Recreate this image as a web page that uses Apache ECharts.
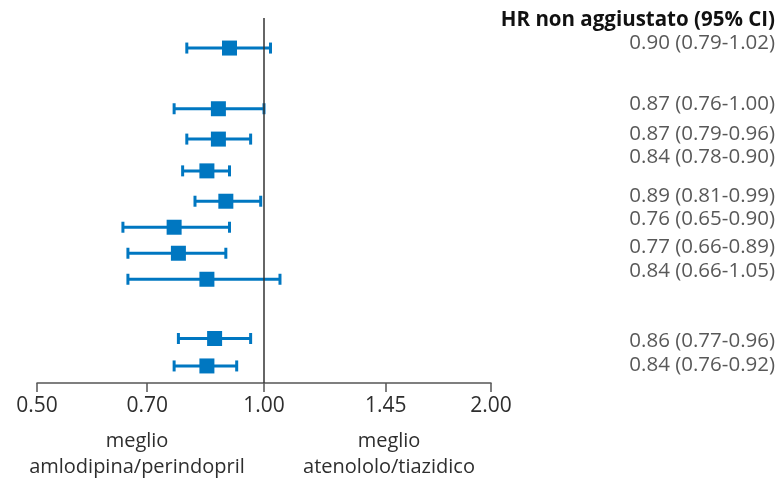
<!DOCTYPE html>
<html>
<head>
<meta charset="utf-8">
<script src="https://cdn.jsdelivr.net/npm/echarts@6/dist/echarts.min.js"></script>
<style>
  html, body { margin: 0; padding: 0; background: #fff; }
  #chart { width: 781px; height: 478px; }
</style>
</head>
<body>
<div id="chart"></div>
<script>
// Hazard ratios with 95% confidence limits, one entry per row
const hr    = [0.90, 0.87, 0.87, 0.84, 0.89, 0.76, 0.77, 0.84, 0.86, 0.84];
const ciLow = [0.79, 0.76, 0.79, 0.78, 0.81, 0.65, 0.66, 0.66, 0.77, 0.76];
const ciHigh= [1.02, 1.00, 0.96, 0.90, 0.99, 0.90, 0.89, 1.05, 0.96, 0.92];

// Axis tick values (log scale)
const xTicks = [0.50, 0.70, 1.00, 1.45, 2.00];

// Layout: vertical row slot of each estimate and of its text
const rowSlot   = [0, 2.1, 3.15, 4.25, 5.3, 6.2, 7.1, 8.0, 10.05, 11];
const labelSlot = [-0.17, 1.94, 2.98, 3.77, 5.12, 5.92, 6.89, 7.72, 10.14, 10.97];

const BLUE = '#0077c1';
const FONT = '"Open Sans"';
const TXT = '#2e2e2e';

const fmt = v => v.toFixed(2);

const barData = hr.map((v, i) => [ciLow[i], ciHigh[i], rowSlot[i]]);
const pointData = hr.map((v, i) => [v, rowSlot[i]]);
const textData = hr.map((v, i) => ({
  value: [1, labelSlot[i]],
  label: { formatter: fmt(v) + ' (' + fmt(ciLow[i]) + '-' + fmt(ciHigh[i]) + ')' }
}));

const yRange = { min: -1.04, max: 11.59 };

const chart = echarts.init(document.getElementById('chart'), null, { renderer: 'canvas' });

chart.setOption({
  animation: false,
  backgroundColor: '#ffffff',
  textStyle: { fontFamily: FONT },
  title: {
    text: 'HR non aggiustato (95% CI)',
    right: 1, top: 5,
    textStyle: { fontFamily: FONT, fontSize: 20.5, fontWeight: 'bold', color: '#111' }
  },
  grid: [
    { left: 37, right: 290, top: 18, bottom: 95 },
    { left: 491, right: 6, top: 18, bottom: 95 }
  ],
  xAxis: [
    {
      gridIndex: 0, type: 'log', logBase: 10, min: 0.5, max: 2,
      axisLine: { onZero: false, lineStyle: { color: '#555', width: 1.5 } },
      axisTick: { show: true, inside: false, length: 9, customValues: xTicks,
                  lineStyle: { color: '#555', width: 1.5 } },
      axisLabel: { customValues: xTicks, formatter: v => fmt(v), margin: 13,
                   fontSize: 21, color: TXT, fontFamily: FONT },
      splitLine: { show: false }, minorTick: { show: false }
    },
    { gridIndex: 1, type: 'value', min: 0, max: 1, show: false }
  ],
  yAxis: [
    Object.assign({ gridIndex: 0, type: 'value', inverse: true, show: false }, yRange),
    Object.assign({ gridIndex: 1, type: 'value', inverse: true, show: false }, yRange)
  ],
  series: [
    {
      type: 'custom',
      xAxisIndex: 0, yAxisIndex: 0,
      data: barData,
      encode: { x: [0, 1], y: 2 },
      renderItem: function (params, api) {
        const a = api.coord([api.value(0), api.value(2)]);
        const b = api.coord([api.value(1), api.value(2)]);
        const h = 5.5;
        const st = { stroke: BLUE, lineWidth: 3 };
        return {
          type: 'group',
          children: [
            { type: 'line', shape: { x1: a[0], y1: a[1], x2: b[0], y2: b[1] }, style: st },
            { type: 'line', shape: { x1: a[0], y1: a[1] - h, x2: a[0], y2: a[1] + h }, style: st },
            { type: 'line', shape: { x1: b[0], y1: b[1] - h, x2: b[0], y2: b[1] + h }, style: st }
          ]
        };
      },
      z: 2
    },
    {
      type: 'scatter',
      xAxisIndex: 0, yAxisIndex: 0,
      data: pointData,
      symbol: 'rect',
      symbolSize: 15,
      itemStyle: { color: BLUE, opacity: 1 },
      z: 3,
      markLine: {
        silent: true,
        symbol: 'none',
        label: { show: false },
        lineStyle: { color: '#333', width: 1.5, type: 'solid' },
        data: [{ xAxis: 1 }]
      }
    },
    {
      type: 'scatter',
      xAxisIndex: 1, yAxisIndex: 1,
      data: textData,
      symbolSize: 0,
      label: {
        show: true, position: 'left', distance: 0,
        fontSize: 20.5, color: TXT, fontFamily: FONT
      }
    }
  ],
  graphic: [
    {
      type: 'text', x: 137, y: 428,
      style: { text: 'meglio\namlodipina/perindopril', align: 'center', lineHeight: 26,
               fontSize: 20, fill: TXT, fontFamily: FONT }
    },
    {
      type: 'text', x: 389, y: 428,
      style: { text: 'meglio\natenololo/tiazidico', align: 'center', lineHeight: 26,
               fontSize: 20, fill: TXT, fontFamily: FONT }
    }
  ]
});
</script>
</body>
</html>
